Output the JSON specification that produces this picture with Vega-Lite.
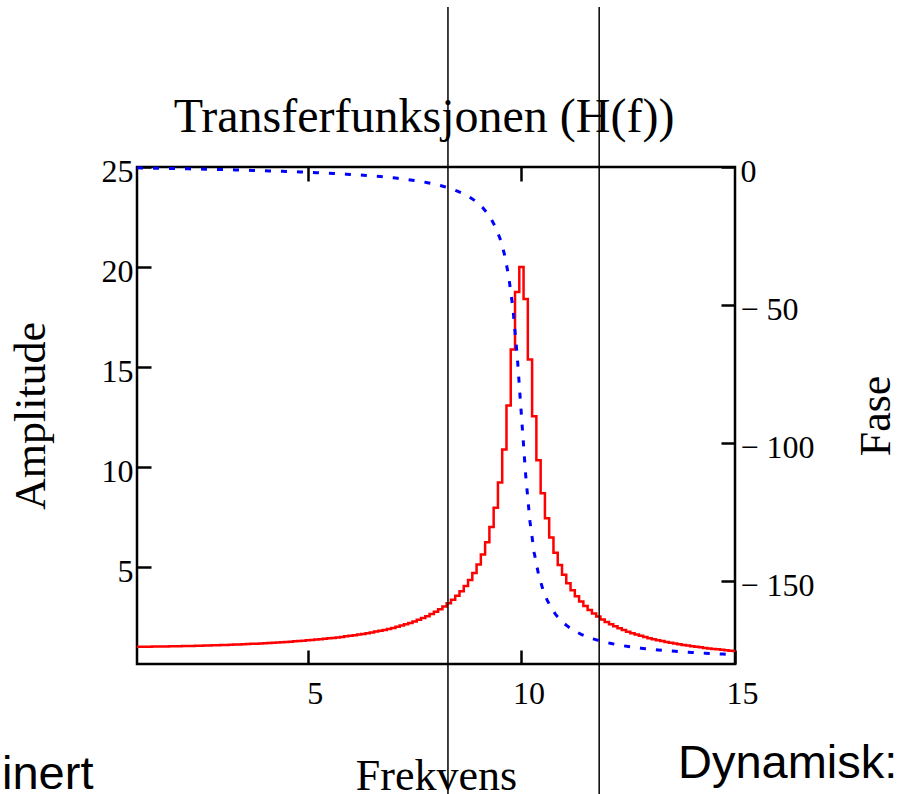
{
  "$schema": "https://vega.github.io/schema/vega-lite/v6.json",
  "autosize": {"type": "none"},
  "padding": {"left": 137, "top": 167, "right": 163, "bottom": 130},
  "width": 598,
  "height": 497,
  "background": "white",
  "title": {
    "text": "Transferfunksjonen (H(f))",
    "font": "Liberation Serif",
    "fontSize": 48,
    "fontWeight": "normal",
    "color": "black",
    "anchor": "middle",
    "frame": "group",
    "dx": -12,
    "offset": -174,
    "baseline": "alphabetic"
  },
  "config": {
    "view": {"stroke": "black", "strokeWidth": 2.5},
    "axis": {
      "domain": false,
      "grid": false,
      "ticks": true,
      "tickColor": "black",
      "tickWidth": 2.5,
      "tickSize": -14,
      "labelFont": "Liberation Serif",
      "labelFontSize": 32,
      "labelColor": "black",
      "labelFlush": false,
      "labelOverlap": false,
      "titleFont": "Liberation Serif",
      "titleFontSize": 44,
      "titleFontWeight": "normal",
      "titleColor": "black"
    }
  },
  "datasets": {
    "h": [
      {"f":1.0,"A":1.010,"P":-0.29},{"f":1.1,"A":1.012,"P":-0.32},{"f":1.2,"A":1.015,"P":-0.35},{"f":1.3,"A":1.017,"P":-0.38},{"f":1.4,"A":1.020,"P":-0.41},
      {"f":1.5,"A":1.023,"P":-0.44},{"f":1.6,"A":1.026,"P":-0.47},{"f":1.7,"A":1.030,"P":-0.50},{"f":1.8,"A":1.033,"P":-0.53},{"f":1.9,"A":1.037,"P":-0.56},
      {"f":2.0,"A":1.042,"P":-0.60},{"f":2.1,"A":1.046,"P":-0.63},{"f":2.2,"A":1.051,"P":-0.66},{"f":2.3,"A":1.056,"P":-0.70},{"f":2.4,"A":1.061,"P":-0.73},
      {"f":2.5,"A":1.067,"P":-0.76},{"f":2.6,"A":1.072,"P":-0.80},{"f":2.7,"A":1.079,"P":-0.83},{"f":2.8,"A":1.085,"P":-0.87},{"f":2.9,"A":1.092,"P":-0.91},
      {"f":3.0,"A":1.099,"P":-0.94},{"f":3.1,"A":1.106,"P":-0.98},{"f":3.2,"A":1.114,"P":-1.02},{"f":3.3,"A":1.122,"P":-1.06},{"f":3.4,"A":1.131,"P":-1.10},
      {"f":3.5,"A":1.139,"P":-1.14},{"f":3.6,"A":1.149,"P":-1.18},{"f":3.7,"A":1.158,"P":-1.23},{"f":3.8,"A":1.168,"P":-1.27},{"f":3.9,"A":1.179,"P":-1.32},
      {"f":4.0,"A":1.190,"P":-1.36},{"f":4.1,"A":1.202,"P":-1.41},{"f":4.2,"A":1.214,"P":-1.46},{"f":4.3,"A":1.226,"P":-1.51},{"f":4.4,"A":1.240,"P":-1.56},
      {"f":4.5,"A":1.253,"P":-1.62},{"f":4.6,"A":1.268,"P":-1.67},{"f":4.7,"A":1.283,"P":-1.73},{"f":4.8,"A":1.299,"P":-1.79},{"f":4.9,"A":1.316,"P":-1.85},
      {"f":5.0,"A":1.333,"P":-1.91},{"f":5.1,"A":1.351,"P":-1.97},{"f":5.2,"A":1.370,"P":-2.04},{"f":5.3,"A":1.390,"P":-2.11},{"f":5.4,"A":1.411,"P":-2.18},
      {"f":5.5,"A":1.433,"P":-2.26},{"f":5.6,"A":1.456,"P":-2.34},{"f":5.7,"A":1.480,"P":-2.42},{"f":5.8,"A":1.506,"P":-2.50},{"f":5.9,"A":1.532,"P":-2.59},
      {"f":6.0,"A":1.561,"P":-2.68},{"f":6.1,"A":1.591,"P":-2.78},{"f":6.2,"A":1.622,"P":-2.88},{"f":6.3,"A":1.656,"P":-2.99},{"f":6.4,"A":1.691,"P":-3.10},
      {"f":6.5,"A":1.729,"P":-3.22},{"f":6.6,"A":1.769,"P":-3.35},{"f":6.7,"A":1.811,"P":-3.48},{"f":6.8,"A":1.856,"P":-3.62},{"f":6.9,"A":1.905,"P":-3.77},
      {"f":7.0,"A":1.956,"P":-3.93},{"f":7.1,"A":2.011,"P":-4.09},{"f":7.2,"A":2.071,"P":-4.28},{"f":7.3,"A":2.134,"P":-4.47},{"f":7.4,"A":2.203,"P":-4.68},
      {"f":7.5,"A":2.277,"P":-4.90},{"f":7.6,"A":2.358,"P":-5.14},{"f":7.7,"A":2.446,"P":-5.40},{"f":7.8,"A":2.541,"P":-5.69},{"f":7.9,"A":2.646,"P":-6.00},
      {"f":8.0,"A":2.761,"P":-6.34},{"f":8.1,"A":2.888,"P":-6.72},{"f":8.2,"A":3.029,"P":-7.13},{"f":8.3,"A":3.186,"P":-7.60},{"f":8.4,"A":3.363,"P":-8.12},
      {"f":8.5,"A":3.562,"P":-8.71},{"f":8.6,"A":3.789,"P":-9.38},{"f":8.7,"A":4.049,"P":-10.15},{"f":8.8,"A":4.351,"P":-11.04},{"f":8.9,"A":4.704,"P":-12.08},
      {"f":9.0,"A":5.121,"P":-13.32},{"f":9.1,"A":5.624,"P":-14.83},{"f":9.2,"A":6.237,"P":-16.67},{"f":9.3,"A":6.999,"P":-19.09},{"f":9.4,"A":7.966,"P":-22.00},
      {"f":9.5,"A":9.221,"P":-25.97},{"f":9.6,"A":10.878,"P":-31.48},{"f":9.7,"A":13.080,"P":-39.37},{"f":9.8,"A":15.873,"P":-51.06},{"f":9.9,"A":18.744,"P":-68.10},
      {"f":10.0,"A":20.000,"P":-90.00},{"f":10.1,"A":18.399,"P":-111.70},{"f":10.2,"A":15.370,"P":-128.38},{"f":10.3,"A":12.538,"P":-139.78},{"f":10.4,"A":10.335,"P":-147.50},
      {"f":10.5,"A":8.684,"P":-152.88},{"f":10.6,"A":7.436,"P":-156.79},{"f":10.7,"A":6.474,"P":-159.73},{"f":10.8,"A":5.716,"P":-162.02},{"f":10.9,"A":5.106,"P":-163.84},
      {"f":11.0,"A":4.607,"P":-165.32},{"f":11.1,"A":4.190,"P":-166.55},{"f":11.2,"A":3.839,"P":-167.59},{"f":11.3,"A":3.539,"P":-168.47},{"f":11.4,"A":3.279,"P":-169.23},
      {"f":11.5,"A":3.053,"P":-169.89},{"f":11.6,"A":2.854,"P":-170.47},{"f":11.7,"A":2.677,"P":-170.99},{"f":11.8,"A":2.520,"P":-171.45},{"f":11.9,"A":2.379,"P":-171.86},
      {"f":12.0,"A":2.252,"P":-172.23},{"f":12.1,"A":2.137,"P":-172.57},{"f":12.2,"A":2.032,"P":-172.88},{"f":12.3,"A":1.936,"P":-173.16},{"f":12.4,"A":1.848,"P":-173.42},
      {"f":12.5,"A":1.767,"P":-173.66},{"f":12.6,"A":1.692,"P":-173.88},{"f":12.7,"A":1.623,"P":-174.08},{"f":12.8,"A":1.559,"P":-174.28},{"f":12.9,"A":1.499,"P":-174.45},
      {"f":13.0,"A":1.443,"P":-174.62},{"f":13.1,"A":1.391,"P":-174.77},{"f":13.2,"A":1.342,"P":-174.92},{"f":13.3,"A":1.296,"P":-175.06},{"f":13.4,"A":1.253,"P":-175.19},
      {"f":13.5,"A":1.212,"P":-175.31},{"f":13.6,"A":1.173,"P":-175.42},{"f":13.7,"A":1.137,"P":-175.53},{"f":13.8,"A":1.103,"P":-175.64},{"f":13.9,"A":1.070,"P":-175.74},
      {"f":14.0,"A":1.039,"P":-175.83},{"f":14.1,"A":1.010,"P":-175.92},{"f":14.2,"A":0.982,"P":-176.00},{"f":14.3,"A":0.955,"P":-176.09},{"f":14.4,"A":0.929,"P":-176.16},
      {"f":14.5,"A":0.905,"P":-176.24},{"f":14.6,"A":0.882,"P":-176.31},{"f":14.7,"A":0.860,"P":-176.38},{"f":14.8,"A":0.838,"P":-176.44},{"f":14.9,"A":0.818,"P":-176.51},
      {"f":15.0,"A":0.799,"P":-176.57}
    ]
  },
  "layer": [
    {
      "data": {"name": "h"},
      "mark": {"type": "line", "color": "#ff0000", "strokeWidth": 2.5, "interpolate": "step"},
      "encoding": {
        "x": {"field": "f", "type": "quantitative",
              "scale": {"domain": [1, 15], "nice": false, "zero": false},
              "axis": {"orient": "bottom", "values": [5, 10, 15], "title": "Frekvens",
                       "labelPadding": 28, "labelOffset": 7, "titlePadding": 45}},
        "y": {"field": "A", "type": "quantitative",
              "scale": {"domain": [0.15, 25], "nice": false, "zero": false},
              "axis": {"orient": "left", "values": [5, 10, 15, 20, 25], "title": "Amplitude",
                       "labelPadding": 18, "labelOffset": 4, "titlePadding": 48}}
      }
    },
    {
      "data": {"values": [{"f": 8.28}, {"f": 11.82}]},
      "mark": {"type": "rule", "color": "black", "strokeWidth": 1.5, "clip": false},
      "encoding": {
        "x": {"field": "f", "type": "quantitative",
              "scale": {"domain": [1, 15], "nice": false, "zero": false}, "axis": null},
        "y": {"datum": 33, "type": "quantitative",
              "scale": {"domain": [0.15, 25], "nice": false, "zero": false}, "axis": null},
        "y2": {"datum": -7}
      }
    },
    {
      "data": {"values": [{"label": "inert"}]},
      "mark": {"type": "text", "font": "Liberation Sans", "fontSize": 47, "align": "left",
               "baseline": "alphabetic", "color": "black", "clip": false},
      "encoding": {
        "x": {"datum": -2.16, "type": "quantitative",
              "scale": {"domain": [1, 15], "nice": false, "zero": false}, "axis": null},
        "y": {"datum": -6.1, "type": "quantitative",
              "scale": {"domain": [0.15, 25], "nice": false, "zero": false}, "axis": null},
        "text": {"field": "label"}
      }
    },
    {
      "data": {"values": [{"label": "Dynamisk:"}]},
      "mark": {"type": "text", "font": "Liberation Sans", "fontSize": 47, "align": "right",
               "baseline": "alphabetic", "color": "black", "clip": false},
      "encoding": {
        "x": {"datum": 18.8, "type": "quantitative",
              "scale": {"domain": [1, 15], "nice": false, "zero": false}, "axis": null},
        "y": {"datum": -5.55, "type": "quantitative",
              "scale": {"domain": [0.15, 25], "nice": false, "zero": false}, "axis": null},
        "text": {"field": "label"}
      }
    },
    {
      "data": {"name": "h"},
      "mark": {"type": "line", "color": "#0000ff", "strokeWidth": 3, "strokeDash": [6, 10], "strokeCap": "butt"},
      "encoding": {
        "x": {"field": "f", "type": "quantitative",
              "scale": {"domain": [1, 15], "nice": false, "zero": false},
              "axis": {"orient": "top", "values": [5, 10], "labels": false, "title": null}},
        "y": {"field": "P", "type": "quantitative",
              "scale": {"domain": [-180, 0], "nice": false, "zero": false},
              "axis": {"orient": "right", "values": [0, -50, -100, -150], "title": "Fase",
                       "labelExpr": "datum.value < 0 ? '− ' + abs(datum.value) : datum.label",
                       "labelPadding": 19, "labelOffset": 4, "titleAngle": 270, "titleBaseline": "top",
                       "titlePadding": 40}}
      }
    }
  ],
  "resolve": {"scale": {"y": "independent"}, "axis": {"x": "independent"}}
}
